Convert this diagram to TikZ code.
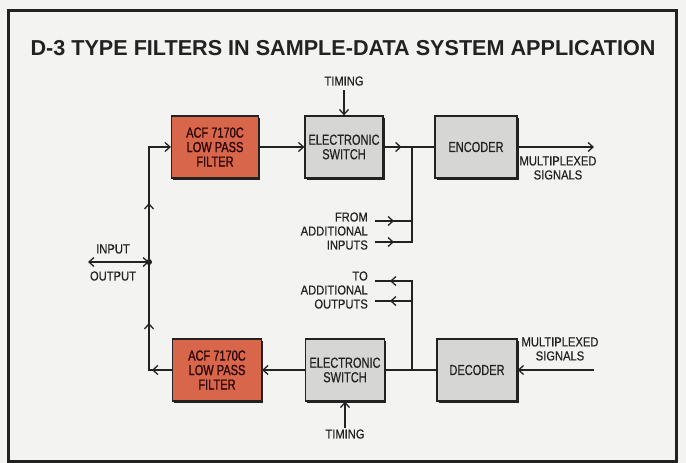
\documentclass[tikz,border=0pt]{standalone}
\usepackage{fontspec}
\setmainfont{Liberation Sans}
\newfontfamily\condfont[FakeStretch=0.76,FakeBold=0.6]{Liberation Sans}
\newfontfamily\lblfont[FakeStretch=0.86,FakeBold=0.5]{Liberation Sans}
\usetikzlibrary{arrows.meta,shadows,decorations.markings}
\definecolor{bg}{HTML}{F3F3F1}
\definecolor{redbox}{HTML}{D8664A}
\definecolor{graybox}{HTML}{D6D6D4}
\definecolor{ink}{HTML}{222222}
\begin{document}
\begin{tikzpicture}[x=1pt,y=-1pt,
  tip/.tip={Straight Barb[length=5pt,width=9pt,line width=1.3pt]},
  conn/.style={draw=ink,line width=1.4pt},
  blk/.style={draw=ink,line width=1.2pt,minimum width=#1,minimum height=62pt,inner sep=0pt,
     align=center,font=\condfont\fontsize{14.5}{14.5}\selectfont,text=ink,
     drop shadow={shadow xshift=1.6pt,shadow yshift=-1.6pt,fill=ink,opacity=1}},
  redblk/.style={blk=#1,fill=redbox,text=black!85!red},
  grayblk/.style={blk=#1,fill=graybox},
  lbl/.style={font=\lblfont\fontsize{13}{14}\selectfont,text=ink,inner sep=0pt},
  midarrow/.style={postaction={decorate,decoration={markings,mark=at position #1 with {\arrow{tip}}}}}
]
\fill[bg] (0,0) rectangle (686,463);
\useasboundingbox (0,0) rectangle (686,463);
\draw[ink,line width=3pt] (8,10) rectangle (676,461);

\node[font=\bfseries\fontsize{21.6}{24}\selectfont,text=ink] (title) at (343,48)
  {D-3 TYPE FILTERS IN SAMPLE-DATA SYSTEM APPLICATION};

% blocks
\node[redblk=87pt] (f1) at (215,147) {ACF 7170C\\LOW PASS\\FILTER};
\node[grayblk=78pt] (s1) at (344,147) {ELECTRONIC\\SWITCH};
\node[grayblk=82pt] (enc) at (476,147) {ENCODER};
\node[redblk=89pt] (f2) at (217,370) {ACF 7170C\\LOW PASS\\FILTER};
\node[grayblk=79pt] (s2) at (345,370) {ELECTRONIC\\SWITCH};
\node[grayblk=80pt] (dec) at (477,370) {DECODER};

% labels
\node[lbl] (tt) at (344,81) {TIMING};
\node[lbl] (tb) at (345,434) {TIMING};
\node[lbl,align=center] (mo) at (558,168) {MULTIPLEXED\\SIGNALS};
\node[lbl,align=center] (mi) at (560,349) {MULTIPLEXED\\SIGNALS};
\node[lbl,align=right,anchor=east] (fromlbl) at (368,231) {FROM\\ADDITIONAL\\INPUTS};
\node[lbl,align=right,anchor=east] (tolbl) at (368,290) {TO\\ADDITIONAL\\OUTPUTS};
\node[lbl] (inlbl) at (113,249) {INPUT};
\node[lbl] (outlbl) at (113,276) {OUTPUT};

% coordinates
\coordinate (jn) at (149,262);
\coordinate (io) at (88,262);
\coordinate (busT) at (412,147);
\coordinate (in1) at (375,221);
\coordinate (in2) at (375,242);
\coordinate (busB) at (412,370);
\coordinate (out1) at (375,281);
\coordinate (out2) at (375,301);
\coordinate (moEnd) at (594,147);
\coordinate (miStart) at (594,370);
\coordinate (tts) at (344,90);
\coordinate (tbn) at (345,428);

% left side
\draw[conn,-tip,midarrow=59pt] (jn) |- (f1.west);
\draw[conn,midarrow=20pt] (f2.west) -| (jn);
\draw[conn,midarrow=70pt] (f2.west) -| (jn);
\draw[conn,tip-tip] (io) -- (jn);
\fill[ink] (jn) circle (3pt);

% top row
\draw[conn,-tip] (f1.east) -- (s1.west);
\draw[conn,-tip] (tts) -- (s1.north);
\draw[conn,midarrow=18pt] (s1.east) -- (enc.west);
\draw[conn,-tip] (enc.east) -- (moEnd);
\draw[conn] (busT) -- (busT |- in2) -- (in2);
\draw[conn,midarrow=19pt] (in2) -- (in2 -| busT);
\draw[conn,midarrow=19pt] (in1) -- (in1 -| busT);

% bottom row
\draw[conn,-tip] (miStart) -- (dec.east);
\draw[conn] (dec.west) -- (s2.east);
\draw[conn,-tip] (s2.west) -- (f2.east);
\draw[conn,-tip] (tbn) -- (s2.south);
\draw[conn] (busB) -- (busB |- out1) -- ([xshift=-1pt]out1 -| busB);
\draw[conn,midarrow=22pt] (out1 -| busB) -- (out1);
\draw[conn,midarrow=22pt] (out2 -| busB) -- (out2);
\end{tikzpicture}
\end{document}
